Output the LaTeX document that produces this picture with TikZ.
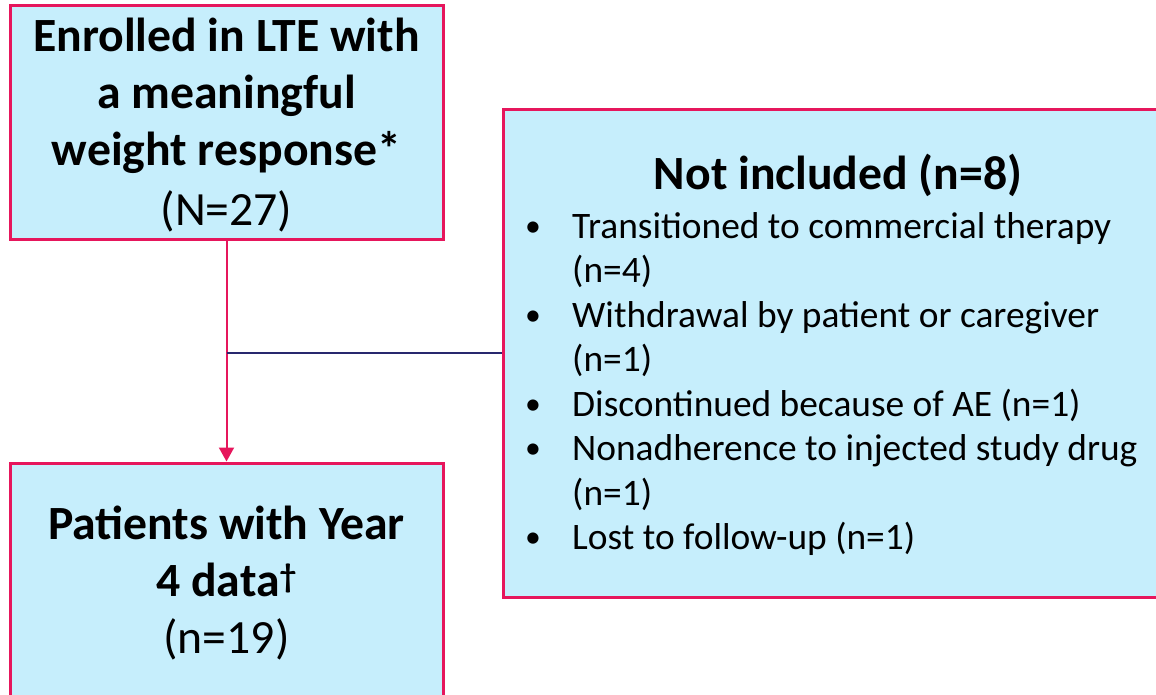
\documentclass[tikz,border=0pt]{standalone}
\usepackage{fontspec}
\setmainfont{Carlito}
\usetikzlibrary{arrows.meta}
\definecolor{boxfill}{RGB}{198,238,252}
\definecolor{boxline}{RGB}{230,22,92}
\definecolor{navyline}{RGB}{40,40,110}
\tikzset{
  flowbox/.style={draw=boxline, line width=3pt, fill=boxfill, rectangle, inner sep=0pt, align=center},
  bigtext/.style={font=\fontsize{47.7}{57}\selectfont, align=center, inner sep=0pt},
  listtext/.style={font=\fontsize{37.4}{44.5}\selectfont, anchor=base west, inner sep=0pt},
}
\newcommand{\blt}{\raisebox{0.05em}{\scalebox{0.85}{\textbullet}}}
\begin{document}
\begin{tikzpicture}[x=1pt,y=-1pt]
\useasboundingbox (0,0) rectangle (1156,694);
\begin{scope}
\clip (0,0) rectangle (1156,694);
\node[flowbox, minimum width=433, minimum height=234] (enrolled) at (226.5,122) {};
\node[bigtext] (enrolledtext) at (226.5,125)
  {\textbf{Enrolled in LTE with}\\\textbf{a meaningful}\\\textbf{weight response*}\\[3pt](N=27)};
\node[flowbox, minimum width=433, minimum height=240] (year4) at (226.5,583) {};
\node[bigtext] (year4text) at (226.5,583)
  {\textbf{Patients with Year}\\\textbf{4 data\textsuperscript{\textbf{†}}}\\(n=19)};
\node[flowbox, minimum width=667, minimum height=488] (notinc) at (836.5,353) {};
\node[bigtext] (nihead) at (838,175) {\textbf{Not included (n=8)}};
\node[listtext] (nilist) at (525,238) {%
  \begin{tabular}[t]{@{}p{47pt}@{}l@{}}
  \blt & Transitioned to commercial therapy\\
   & (n=4)\\
  \blt & Withdrawal by patient or caregiver\\
   & (n=1)\\
  \blt & Discontinued because of AE (n=1)\\
  \blt & Nonadherence to injected study drug\\
   & (n=1)\\
  \blt & Lost to follow-up (n=1)
  \end{tabular}};
\coordinate (junction) at (enrolled.south |- notinc.west);
\draw[boxline, line width=2pt, -{Triangle[width=15pt,length=14pt]}] (enrolled.south) -- (year4.north);
\draw[navyline, line width=1.3pt] (junction) -- (notinc.west);
\end{scope}
\end{tikzpicture}
\end{document}
